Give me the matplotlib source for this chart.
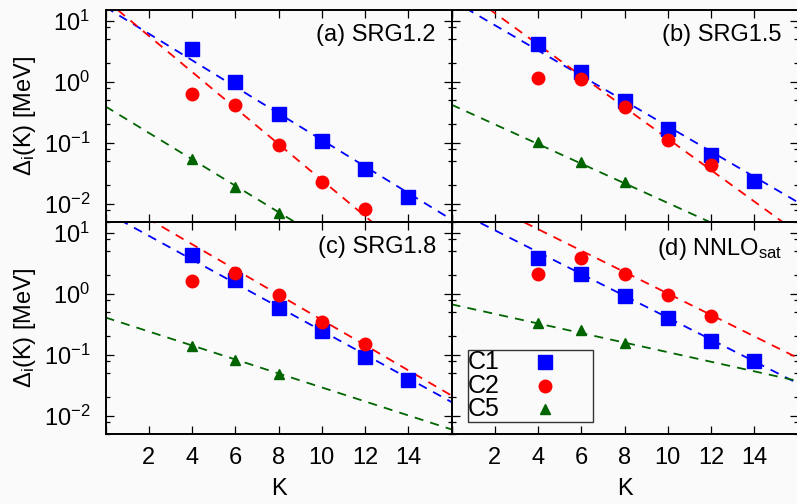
import numpy as np
import matplotlib
matplotlib.use("Agg")
import matplotlib.pyplot as plt
from matplotlib.ticker import LogLocator, FixedLocator, NullFormatter, FixedFormatter
from matplotlib.patches import Rectangle

plt.rcParams['font.family'] = ['Liberation Sans', 'DejaVu Sans']
plt.rcParams['mathtext.fontset'] = 'custom'
plt.rcParams['mathtext.rm'] = 'Liberation Sans'
plt.rcParams['mathtext.it'] = 'Liberation Sans:italic'
plt.rcParams['mathtext.default'] = 'regular'

# ---------------- data ----------------
K = [4, 6, 8, 10, 12, 14]
panel_titles = ["(a) SRG1.2", "(b) SRG1.5", "(c) SRG1.8", "(d) NNLO$_{\\rm sat}$"]
series_names = ["C1", "C2", "C5"]

c1_a = [3.5, 1.0, 0.29, 0.105, 0.037, 0.013]
c2_a = [0.64, 0.41, 0.093, 0.023, 0.0081]
c5_a = [0.053, 0.019, 0.0070]

c1_b = [4.1, 1.42, 0.475, 0.17, 0.062, 0.0233]
c2_b = [1.13, 1.1, 0.385, 0.109, 0.0436]
c5_b = [0.101, 0.0476, 0.0229]

c1_c = [4.25, 1.65, 0.58, 0.247, 0.093, 0.0384]
c2_c = [1.6, 2.2, 0.97, 0.35, 0.15]
c5_c = [0.14, 0.082, 0.0477]

c1_d = [3.85, 2.14, 0.91, 0.40, 0.166, 0.080]
c2_d = [2.11, 3.85, 2.14, 0.95, 0.43]
c5_d = [0.337, 0.253, 0.154]

# exponential fits: log10(Delta) = intercept + slope*K
fit_intercept_a = [1.224, 1.344, -0.405]
fit_slope_a = [-0.2178, -0.2957, -0.2167]
fit_intercept_b = [1.342, 1.641, -0.377]
fit_slope_b = [-0.2072, -0.2575, -0.1611]
fit_intercept_c = [1.340, 1.639, -0.390]
fit_slope_c = [-0.1948, -0.2068, -0.1147]
fit_intercept_d = [1.400, 1.762, -0.174]
fit_slope_d = [-0.1793, -0.1758, -0.0785]

x_ticks = [0, 2, 4, 6, 8, 10, 12, 14, 16]
x_ticklabels = ["", "2", "4", "6", "8", "10", "12", "14", ""]

panels = [
    (c1_a, c2_a, c5_a, fit_intercept_a, fit_slope_a),
    (c1_b, c2_b, c5_b, fit_intercept_b, fit_slope_b),
    (c1_c, c2_c, c5_c, fit_intercept_c, fit_slope_c),
    (c1_d, c2_d, c5_d, fit_intercept_d, fit_slope_d),
]

colors = ['#0000ff', '#ff0000', '#006400']
markers = ['s', 'o', '^']
msizes = [9.5, 9.0, 7.5]

W, H = 797, 504
fig = plt.figure(figsize=(W / 100, H / 100), dpi=100)
bg = '#fafafa'
fig.patch.set_facecolor(bg)

left_px = [105.5, 451.5]
width_px = 346
top_px = [10, 222]
height_px = 212

FS = 17
axes = []
for r in range(2):
    for c in range(2):
        ax = fig.add_axes([left_px[c] / W, 1 - (top_px[r] + height_px) / H,
                           width_px / W, height_px / H])
        ax.set_facecolor('none')
        axes.append(ax)

kk = np.linspace(0, 16, 200)
for i, ax in enumerate(axes):
    c1, c2, c5, ic, sl = panels[i]
    vals = [c1, c2, c5]
    for j in range(3):
        ax.plot(kk, 10 ** (ic[j] + sl[j] * kk), ls=(0, (5, 4)), lw=1.3,
                color=colors[j], zorder=2)
    for j in range(3):
        ax.plot(K[:len(vals[j])], vals[j], ls='none', marker=markers[j],
                ms=msizes[j], color=colors[j], mec=colors[j], zorder=3)
    ax.set_yscale('log')
    ax.set_xlim(0, 16)
    ax.set_ylim(0.005, 15)
    ax.yaxis.set_major_locator(LogLocator(base=10, numticks=10))
    ax.yaxis.set_minor_locator(LogLocator(base=10, subs=[2, 5, 8], numticks=10))
    ax.yaxis.set_minor_formatter(NullFormatter())
    ax.xaxis.set_major_locator(FixedLocator(x_ticks))
    ax.xaxis.set_major_formatter(FixedFormatter(x_ticklabels))
    ax.tick_params(which='major', direction='in', length=6, width=0.9,
                   top=True, right=True, labelsize=FS)
    ax.tick_params(which='minor', direction='in', length=3, width=0.9,
                   top=True, right=True)
    ax.tick_params(axis='x', pad=9)
    ax.tick_params(axis='y', pad=11)
    for s in ax.spines.values():
        s.set_linewidth(1.4)
    r, c = divmod(i, 2)
    if r == 0:
        ax.tick_params(labelbottom=False)
    else:
        ax.set_xlabel("K", fontsize=FS, labelpad=7)
    if c == 1:
        ax.tick_params(labelleft=False)
    else:
        ax.set_ylabel("$\\Delta_{\\rm i}$(K) [MeV]", fontsize=FS, labelpad=4)
    ax.text(0.955, 0.935, panel_titles[i], transform=ax.transAxes,
            ha='right', va='top', fontsize=FS)

# legend in panel (d)
axd = axes[3]
x0, y0, x1, y1 = 0.049, 0.057, 0.408, 0.396
axd.add_patch(Rectangle((x0, y0), x1 - x0, y1 - y0, transform=axd.transAxes,
                        fill=False, ec='#333333', lw=1.0, zorder=4))
rows_y = [0.34, 0.227, 0.12]
for j in range(3):
    axd.text(x0 - 0.002, rows_y[j], series_names[j], transform=axd.transAxes,
             ha='left', va='center', fontsize=FS + 1, zorder=5)
    axd.plot([0.27], [rows_y[j]], transform=axd.transAxes, ls='none',
             marker=markers[j], ms=msizes[j], color=colors[j], zorder=5,
             clip_on=False)

fig.savefig("out.png", dpi=100, facecolor=bg)
